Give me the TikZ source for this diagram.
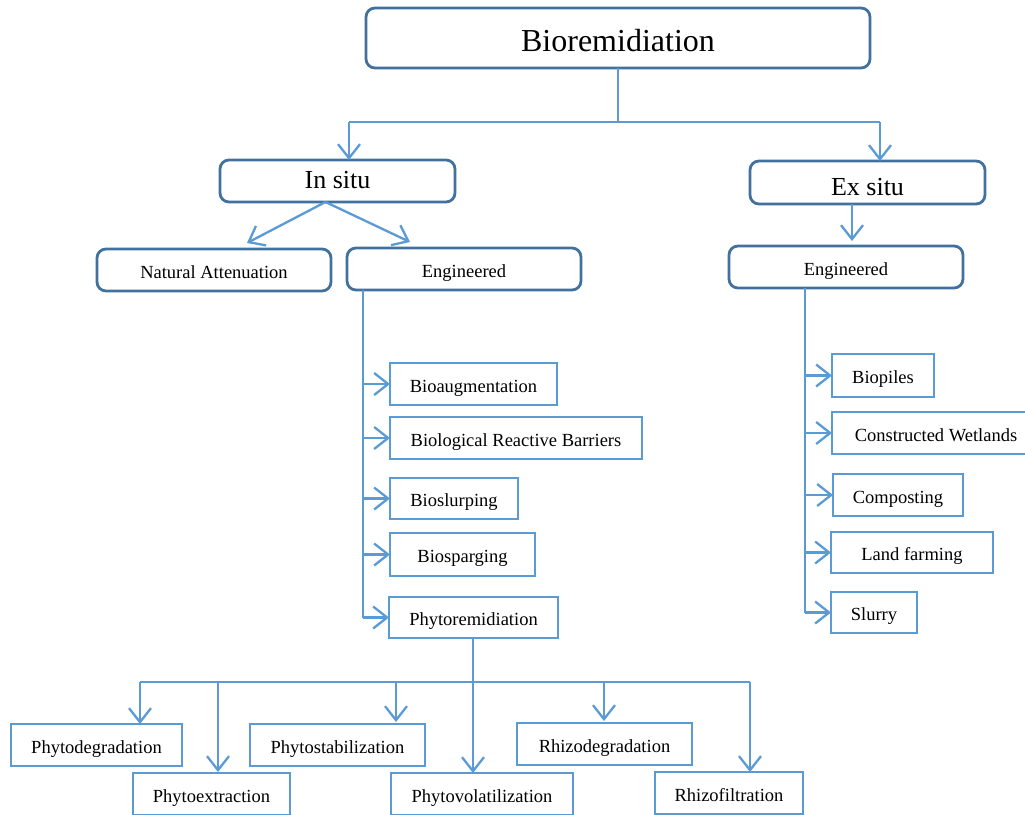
\documentclass[tikz,border=0pt]{standalone}
\usepackage{fontspec}
\setmainfont{Liberation Serif}
\usetikzlibrary{arrows.meta,calc}
\definecolor{lineblue}{HTML}{5B9BD5}
\definecolor{darkblue}{HTML}{41719C}
\begin{document}
\begin{tikzpicture}[x=1pt,y=-1pt,
  base/.style={line width=2.8pt, fill=white, inner sep=0pt, outer sep=0pt, align=center,
    text=black, font=\fontsize{18.5}{22}\selectfont, text height=18.5pt, text depth=2.5pt},
  rbox/.style={base, draw=darkblue, rounded corners=9pt},
  sbox/.style={base, draw=lineblue},
  bigtext/.style={font=\fontsize{32}{36}\selectfont, text height=30pt, text depth=4pt},
  midtext/.style={font=\fontsize{26}{30}\selectfont},
  conn/.style={draw=lineblue, line width=2.3pt},
  arr/.style={conn, -{Straight Barb[length=14pt,width=22pt]}}]
\useasboundingbox (0,0) rectangle (1025,814);
\clip (0,0) rectangle (1025,814);
\fill[white] (0,0) rectangle (1025,814);

% rounded boxes
\node[rbox, bigtext, minimum width=504pt, minimum height=60pt] (bio) at (618,38) {Bioremidiation};
\node[rbox, midtext, text height=18pt, text depth=4pt, minimum width=235pt, minimum height=42pt] (insitu) at (337.5,181) {In situ};
\node[rbox, midtext, text height=29pt, text depth=4pt, minimum width=235pt, minimum height=43pt] (exsitu) at (867.5,182.5) {Ex situ};
\node[rbox, minimum width=234pt, minimum height=42pt] (nat) at (214,270) {Natural Attenuation};
\node[rbox, minimum width=234pt, minimum height=42pt] (engA) at (464,269) {Engineered};
\node[rbox, minimum width=234pt, minimum height=42pt] (engB) at (846,267) {Engineered};

% in situ engineered boxes
\node[sbox, minimum width=167pt, minimum height=42pt] (baug) at (473.5,384) {Bioaugmentation};
\node[sbox, minimum width=252pt, minimum height=42pt] (brb) at (516,438) {Biological Reactive Barriers};
\node[sbox, minimum width=128pt, minimum height=41pt] (bslu) at (454,498.5) {Bioslurping};
\node[sbox, minimum width=145pt, minimum height=43pt] (bspa) at (462.5,554.5) {Biosparging};
\node[sbox, minimum width=169pt, minimum height=41pt] (phyto) at (473.5,617.5) {Phytoremidiation};

% ex situ engineered boxes
\node[sbox, minimum width=102pt, minimum height=43pt] (biop) at (883,375.5) {Biopiles};
\node[sbox, minimum width=208pt, minimum height=42pt] (cw) at (936,433) {Constructed Wetlands};
\node[sbox, minimum width=130pt, minimum height=42pt] (comp) at (898,495) {Composting};
\node[sbox, minimum width=162pt, minimum height=41pt] (land) at (912,552.5) {Land farming};
\node[sbox, minimum width=86pt, minimum height=41pt] (slurry) at (874,612.5) {Slurry};

% phytoremediation boxes
\node[sbox, minimum width=171pt, minimum height=42pt] (pdeg) at (96.5,745) {Phytodegradation};
\node[sbox, minimum width=157pt, minimum height=42pt] (pext) at (211.5,794) {Phytoextraction};
\node[sbox, minimum width=175pt, minimum height=42pt] (pstab) at (337.5,745) {Phytostabilization};
\node[sbox, minimum width=182pt, minimum height=42pt] (pvol) at (482,794) {Phytovolatilization};
\node[sbox, minimum width=175pt, minimum height=42pt] (rdeg) at (604.5,744) {Rhizodegradation};
\node[sbox, minimum width=148pt, minimum height=42pt] (rfil) at (729,793) {Rhizofiltration};

% top level connectors
\coordinate (jc) at (bio.south |- 0,122);
\coordinate (jl) at (349,122);
\coordinate (jr) at (880,122);
\draw[conn] (bio.south) -- (jc);
\draw[conn] (jl) -- (jr);
\draw[arr] (jl) -- (jl |- insitu.north);
\draw[arr] (jr) -- (jr |- exsitu.north);

% in situ split
\coordinate (is) at ($(insitu.south)+(-12,0)$);
\coordinate (tnat) at (247,243);
\coordinate (teng) at (410,242);
\draw[arr] (is) -- (tnat);
\draw[arr] (is) -- (teng);

% ex situ to engineered
\coordinate (es) at (852,0);
\coordinate (teb) at (852,241);
\draw[arr] (es |- exsitu.south) -- (teb);

% in situ engineered spine
\coordinate (sa) at (363,0);
\coordinate (sabot) at (363,618);
\draw[conn] (sa |- engA.south) -- (sabot);
\foreach \b in {baug,brb,bslu,bspa,phyto}
  \draw[arr] (sa |- \b.west) -- (\b.west);

% ex situ engineered spine
\coordinate (sb) at (805,0);
\coordinate (sbbot) at (805,613);
\draw[conn] (sb |- engB.south) -- (sbbot);
\foreach \b in {biop,cw,comp,land,slurry}
  \draw[arr] (sb |- \b.west) -- (\b.west);

% phytoremediation tree
\coordinate (px) at (473,0);
\coordinate (pj) at (473,682);
\coordinate (pl) at (140,682);
\coordinate (pr) at (750,682);
\draw[conn] (px |- phyto.south) -- (pj);
\draw[conn] (pl) -- (pr);
\draw[arr] (pl) -- (pl |- pdeg.north);
\draw[arr] (218,682) -- (218,772);
\draw[arr] (396,682) -- (396,722);
\draw[arr] (pj) -- (pj |- pvol.north);
\draw[arr] (604,682) -- (604,721);
\draw[arr] (pr) -- (pr |- rfil.north);
\end{tikzpicture}
\end{document}
